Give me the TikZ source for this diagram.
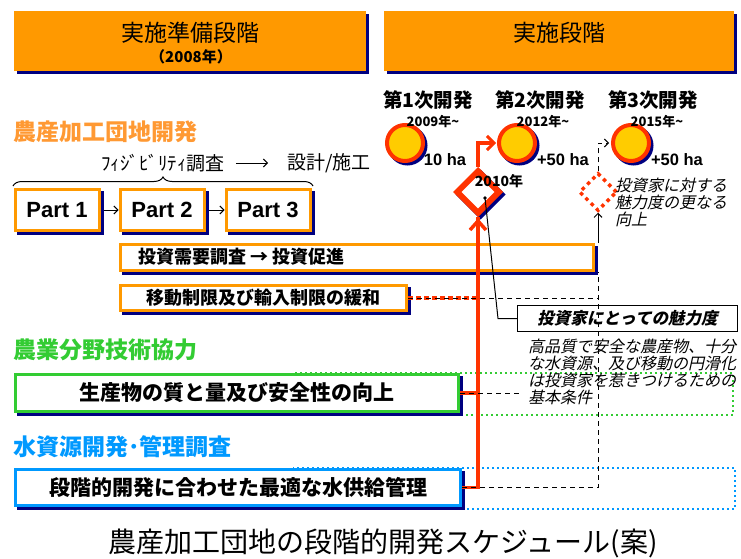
\documentclass[tikz,border=0pt]{standalone}
\usepackage{fontspec}
\setmainfont{Liberation Sans}
\newfontfamily\jp{Noto Sans CJK JP}
\newfontfamily\jpsl[FakeSlant=0.22]{Noto Sans CJK JP}
\usetikzlibrary{shapes.geometric,arrows.meta,shadows,decorations.pathreplacing}
\definecolor{hdr}{HTML}{FF9900}
\definecolor{navyc}{HTML}{000080}
\definecolor{redc}{HTML}{FF3300}
\definecolor{goldc}{HTML}{FFCC00}
\definecolor{grn}{HTML}{33CC33}
\definecolor{blu}{HTML}{0099FF}
\definecolor{orgtxt}{HTML}{FF9933}
\newcommand\fsz[2]{\fontsize{#1}{#2}\selectfont}
\begin{document}
\begin{tikzpicture}[x=1pt,y=-1pt,
  hdrbox/.style={fill=hdr, inner sep=0pt, minimum height=60pt,
    general shadow={fill=navyc, shadow xshift=3pt, shadow yshift=-3pt}},
  framebox/.style={draw=#1, line width=3pt, fill=white, inner sep=0pt,
    general shadow={fill=navyc, draw=navyc, line width=3pt, shadow xshift=3pt, shadow yshift=-3pt}},
  partbox/.style={framebox=hdr, minimum width=84pt, minimum height=41pt, font=\bfseries\fsz{22}{24}},
  stagecircle/.style={circle, minimum size=36pt, inner sep=0pt, fill=goldc, draw=redc, line width=4pt,
    general shadow={fill=navyc, draw=navyc, line width=4pt, shadow xshift=2.5pt, shadow yshift=-2.5pt}},
  stagelbl/.style={font=\jp\bfseries\fsz{19.5}{22}, inner sep=0pt},
  yearlbl/.style={font=\jp\bfseries\fsz{13}{15}, inner sep=0pt},
  halbl/.style={font=\bfseries\fsz{16.5}{18}, inner sep=0pt},
  sectitle/.style={anchor=west, font=\jp\bfseries\fsz{23}{26}, inner sep=0pt},
  redline/.style={draw=redc, line width=3.5pt},
  thintip/.style={-{Straight Barb[length=4pt,width=8pt]}},
  dashline/.style={draw=black, line width=1pt, dash pattern=on 5pt off 4pt},
  notetext/.style={font=\jpsl\fsz{16}{17}, align=left, inner sep=0pt}
]
\useasboundingbox (0,0) rectangle (741,559);

% headers
\node[hdrbox, minimum width=352pt] (h1) at (190,41) {};
\node[font=\jp\fsz{23}{26}, inner sep=0pt] (h1t) at (190,33) {実施準備段階};
\node[font=\jp\bfseries\fsz{15}{17}, inner sep=0pt] (h1y) at (191,57) {（2008年）};
\node[hdrbox, minimum width=350pt] (h2) at (559,41) {};
\node[font=\jp\fsz{23}{26}, inner sep=0pt] (h2t) at (559,33) {実施段階};

% stages
\node[stagelbl] (s1) at (428,100) {第1次開発};
\node[stagelbl] (s2) at (540,100) {第2次開発};
\node[stagelbl] (s3) at (653,100) {第3次開発};
\node[stagecircle] (c1) at (405,143) {};
\node[stagecircle] (c2) at (517,143) {};
\node[stagecircle] (c3) at (631,143) {};
\node[yearlbl] (y1) at (433,122) {2009年\textasciitilde};
\node[yearlbl] (y2) at (543,122) {2012年\textasciitilde};
\node[yearlbl] (y3) at (657,122) {2015年\textasciitilde};
\node[halbl] (a1) at (445,160) {10 ha};
\node[halbl] (a2) at (563,160) {+50 ha};
\node[halbl] (a3) at (677,160) {+50 ha};

% dotted rectangles behind boxes
\draw[grn, line width=2pt, dash pattern=on 2pt off 3pt] (293,373) rectangle (733,415);
\draw[blu, line width=2pt, dash pattern=on 2pt off 3pt] (293,468) rectangle (735,509);

% left section
\node[sectitle, text=orgtxt] (t1) at (13,132) {農産加工団地開発};
\node[anchor=west, font=\jp\fsz{19}{22}, inner sep=0pt] (fs) at (101,163) {ﾌｨｼﾞﾋﾞﾘﾃｨ調査};
\node[anchor=west, font=\jp\fsz{19}{22}, inner sep=0pt] (dz) at (287,163) {設計/施工};
\draw[line width=1pt, thintip, shorten <=11pt, shorten >=19pt] (fs.east) -- (dz.west);
\coordinate (bl) at (13,186);
\coordinate (br) at (313,186);
\draw[line width=1pt, decorate, decoration={brace, amplitude=9pt}] (bl) -- (br);

\node[partbox] (p1) at (57,210) {Part 1};
\node[partbox] (p2) at (162,210) {Part 2};
\node[partbox] (p3) at (268,210) {Part 3};
\draw[line width=1pt, thintip, shorten <=3pt] (p1.east) -- (p2.west);
\draw[line width=1pt, thintip, shorten <=3pt] (p2.east) -- (p3.west);

\node[framebox=hdr, minimum width=473pt, minimum height=26pt] (inv) at (357,257.5) {};
\node[anchor=west, font=\jp\bfseries\fsz{18}{20}, inner sep=0pt] (invt) at (138,257) {投資需要調査 → 投資促進};
\node[framebox=hdr, minimum width=286pt, minimum height=25pt, font=\jp\bfseries\fsz{18}{20}] (ido) at (263.5,298) {移動制限及び輸入制限の緩和};

\node[sectitle, text=grn] (t2) at (13,350) {農業分野技術協力};
\node[framebox=grn, minimum width=443pt, minimum height=37pt, font=\jp\bfseries\fsz{21}{24}] (gbox) at (237,393) {生産物の質と量及び安全性の向上};
\node[sectitle, text=blu] (t3) at (13,447) {水資源開発･管理調査};
\node[framebox=blu, minimum width=445pt, minimum height=36pt, font=\jp\bfseries\fsz{21}{24}] (bbox) at (238,487.5) {段階的開発に合わせた最適な水供給管理};

% diamonds
\node[diamond, minimum width=44pt, minimum height=44pt, inner sep=0pt, draw=redc, line width=6pt, fill=white,
  general shadow={draw=navyc, line width=6pt, shadow xshift=2.5pt, shadow yshift=-2.5pt}] (d2) at (478,192) {};
\node[font=\jp\bfseries\fsz{14}{16}, inner sep=0pt] (d2t) at (499,181) {2010年};
\node[diamond, minimum width=38pt, minimum height=38pt, inner sep=0pt, draw=redc, line width=3.5pt,
  dash pattern=on 3.5pt off 4pt] (d3) at (598,192) {};
\node[notetext, anchor=north west] (n1) at (615,178) {投資家に対する\\魅力度の更なる\\向上};

% red connectors
\draw[redline] (bbox.east) -- (bbox.east -| d2.south) -- (d2.south);
\draw[redc, line width=3.5pt, line join=miter] ([xshift=-8pt,yshift=-13pt]d2.south) -- ([yshift=-4pt]d2.south) -- ([xshift=8pt,yshift=-13pt]d2.south);
\draw[redline] (gbox.east) -- (gbox.east -| d2.south);
\draw[redline, dash pattern=on 5pt off 3pt] (ido.east) -- (ido.east -| d2.south);
\draw[redline, -{Straight Barb[length=7pt,width=14pt,line width=3pt]}, shorten >=1pt] (d2.north) -- (d2.north |- c2.west) -- (c2.west);

% attractiveness box and notes
\node[draw=black, line width=1.2pt, fill=white, minimum width=220pt, minimum height=26pt, inner sep=0pt,
  font=\jpsl\bfseries\fsz{16.5}{18}] (attr) at (627.5,318.5) {投資家にとっての魅力度};
\node[notetext, anchor=north west] (n2) at (528,339) {高品質で安全な農産物、十分\\な水資源、及び移動の円滑化\\は投資家を惹きつけるための\\基本条件};

% black connectors
\coordinate (vtop) at (598,243);
\coordinate (vmid) at (598,272);
\draw[line width=1pt, thintip] (vtop) -- (d3.south);
\draw[dashline] (bbox.east) -- (bbox.east -| vmid) -- (vmid);
\draw[dashline] (ido.east) -- (ido.east -| vmid);
\draw[dashline] (gbox.east) -- ++(62,0);
\draw[dashline, thintip, shorten >=2pt] (d3.north) -- (d3.north |- c3.west) -- (c3.west);
\coordinate (dot) at (485,198);
\coordinate (bend) at (498,318.5);
\fill (dot) circle (1.8pt);
\draw[line width=1pt] (dot) -- (bend) -- (attr.west);

% caption
\node[font=\jp\fsz{28}{32}, inner sep=0pt] (cap) at (383,543) {農産加工団地の段階的開発スケジュール(案)};
\end{tikzpicture}
\end{document}
